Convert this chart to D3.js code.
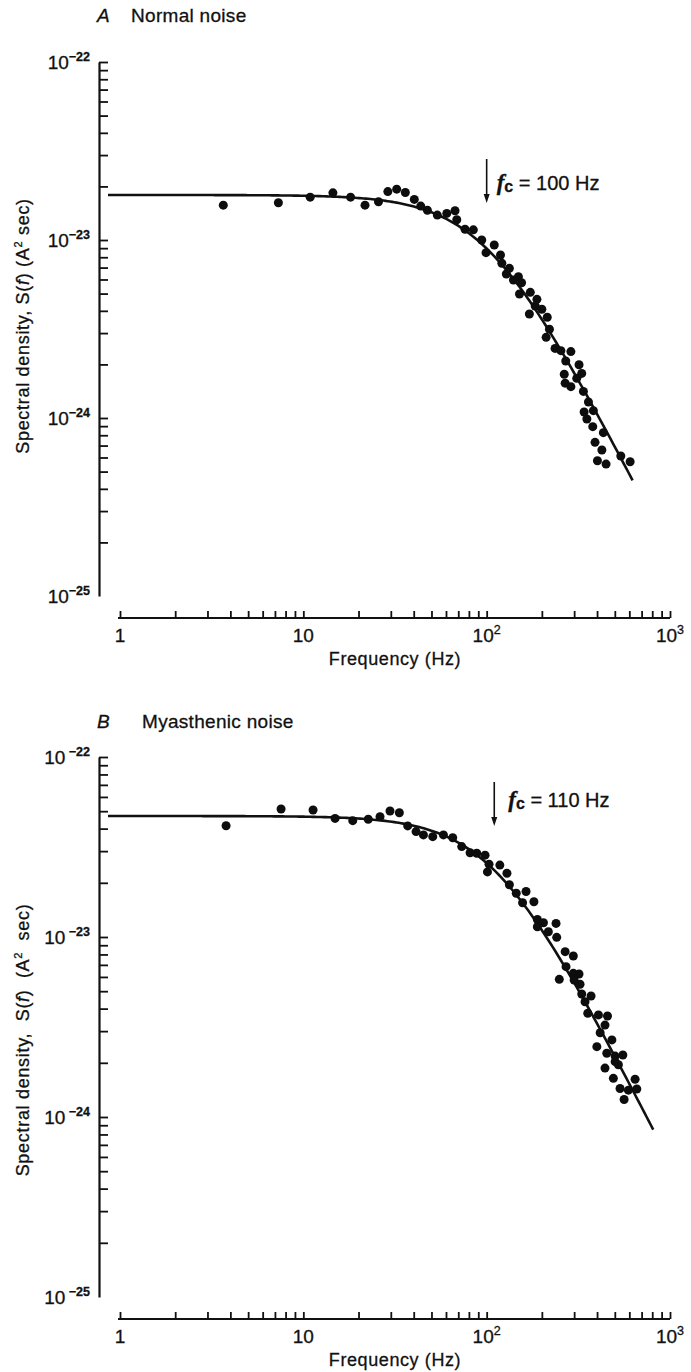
<!DOCTYPE html>
<html>
<head>
<meta charset="utf-8">
<script src="https://cdn.jsdelivr.net/npm/d3@7"></script>
<style>
  body { margin: 0; background: #fff; }
  text { font-family: "Liberation Sans", Arial, sans-serif; fill: #111; stroke: #111; stroke-width: 0.3px; }
</style>
</head>
<body>
<svg id="chart" width="691" height="1372"></svg>
<script>
// ---- Data: spectral density of end-plate current noise ----
// A: normal noise
const normalFreq = [3.66, 7.31, 10.9, 14.5, 18.1, 21.7, 25.7, 28.9, 32.3, 36.0,
  40.3, 43.7, 47.5, 53.8, 60.6, 67.2, 68.7, 76.2, 84.6, 94.0,
  99.2, 110, 119, 121, 128, 133, 140, 149, 155, 151,
  173, 188, 184, 171, 200, 214, 220, 211, 236, 254,
  288, 270, 319, 330, 265, 310, 268, 288, 337, 359,
  340, 382, 352, 379, 433, 390, 425, 402, 448, 539, 606];
const normalDensity = [1.57e-23, 1.62e-23, 1.74e-23, 1.84e-23, 1.74e-23, 1.57e-23, 1.64e-23, 1.87e-23, 1.93e-23, 1.85e-23,
  1.69e-23, 1.55e-23, 1.47e-23, 1.38e-23, 1.41e-23, 1.46e-23, 1.30e-23, 1.15e-23, 1.14e-23, 1.00e-23,
  8.49e-24, 9.37e-24, 8.24e-24, 7.40e-24, 6.44e-24, 6.93e-24, 5.96e-24, 6.22e-24, 5.75e-24, 4.97e-24,
  5.08e-24, 4.64e-24, 4.26e-24, 3.84e-24, 4.08e-24, 3.68e-24, 3.15e-24, 2.84e-24, 2.46e-24, 2.39e-24,
  2.36e-24, 2.09e-24, 1.99e-24, 1.78e-24, 1.76e-24, 1.67e-24, 1.57e-24, 1.50e-24, 1.41e-24, 1.23e-24,
  1.08e-24, 1.10e-24, 9.87e-25, 8.94e-25, 8.27e-25, 7.30e-25, 6.61e-25, 5.75e-25, 5.51e-25, 6.12e-25, 5.68e-25];

// B: myasthenic noise
const myasthenicFreq = [3.79, 7.56, 11.3, 14.9, 18.6, 22.6, 26.2, 29.7, 33.4, 37.1,
  41.2, 45.2, 50.8, 58.1, 65.3, 73.1, 81.2, 88.3, 98.0, 103,
  101, 118, 129, 133, 145, 164, 157, 181, 189, 204,
  189, 239, 217, 241, 268, 297, 271, 249, 297, 319,
  323, 300, 371, 330, 344, 356, 407, 456, 442, 416,
  482, 399, 452, 502, 553, 502, 523, 442, 491, 645,
  534, 593, 659, 562];
const myasthenicDensity = [4.15e-23, 5.14e-23, 5.08e-23, 4.56e-23, 4.43e-23, 4.51e-23, 4.66e-23, 5.01e-23, 4.90e-23, 4.14e-23,
  3.85e-23, 3.69e-23, 3.61e-23, 3.69e-23, 3.56e-23, 3.18e-23, 2.94e-23, 2.92e-23, 2.85e-23, 2.54e-23,
  2.30e-23, 2.51e-23, 2.26e-23, 1.95e-23, 1.75e-23, 1.79e-23, 1.55e-23, 1.57e-23, 1.25e-23, 1.20e-23,
  1.14e-23, 1.19e-23, 1.07e-23, 9.96e-24, 8.29e-24, 7.84e-24, 6.84e-24, 5.82e-24, 6.28e-24, 6.23e-24,
  5.46e-24, 5.77e-24, 4.70e-24, 4.82e-24, 4.37e-24, 3.77e-24, 3.69e-24, 3.64e-24, 3.24e-24, 2.94e-24,
  2.68e-24, 2.46e-24, 2.26e-24, 2.18e-24, 2.21e-24, 2.03e-24, 1.95e-24, 1.87e-24, 1.64e-24, 1.62e-24,
  1.44e-24, 1.41e-24, 1.43e-24, 1.25e-24];

// Lorentzian fits: plateau S(0) and corner frequency fc
const fitPlateau = [1.79e-23, 4.7e-23];
const cornerFreq = [100, 110];
const fitRange = [[0.86, 625], [0.86, 810]];

// Axis ticks and labels
const xMajorTicks = [1, 10, 100, 1000];
const xTickBase = ["1", "10", "10", "10"];
const xTickSup = ["", "", "2", "3"];
const yMajorExp = [-22, -23, -24, -25];
const panelLetters = ["A", "B"];
const panelNames = ["Normal noise", "Myasthenic noise"];
const xTitle = "Frequency (Hz)";

// ---- Layout ----
const svg = d3.select("#chart");
const xLeft = 120, xRight = 670, yAxisX = 99;

const layouts = [
  { top: 62, bottom: 596, axisY: 618, titleY: 22, nameX: 131,
    arrowTop: 159, arrowTip: 203, fcY: 190, fcDx: 10,
    yLabelC: 326, yLabelSpaced: false, tickGap: "" },
  { top: 757, bottom: 1297, axisY: 1319, titleY: 728, nameX: 142,
    arrowTop: 782, arrowTip: 826, fcY: 807, fcDx: 14,
    yLabelC: 1040, yLabelSpaced: true, tickGap: " " }
];

const series = [
  { freq: normalFreq, dens: normalDensity },
  { freq: myasthenicFreq, dens: myasthenicDensity }
];

function drawPanel(i) {
  const L = layouts[i];
  const g = svg.append("g");

  const x = d3.scaleLog().domain([1, 1000]).range([xLeft, xRight]);
  const y = d3.scaleLog().domain([1e-25, 1e-22]).range([L.bottom, L.top]);

  // y axis: inward ticks at every 1..9 x 10^k
  const yAxis = d3.axisLeft(y)
    .tickValues(y.ticks())
    .tickSizeInner(-9).tickSizeOuter(0)
    .tickFormat("");
  const ya = g.append("g").attr("transform", `translate(${yAxisX},0)`).call(yAxis);
  ya.select(".domain").attr("stroke", "#111").attr("stroke-width", 2.2);
  ya.selectAll(".tick line").attr("stroke", "#111").attr("stroke-width", 1.8);

  // y tick labels 10^n
  yMajorExp.forEach(e => {
    const t = g.append("text")
      .attr("x", 90).attr("y", y(Math.pow(10, e)) + 7)
      .attr("text-anchor", "end")
      .style("font-size", "19px");
    t.append("tspan").text("10");
    t.append("tspan").attr("dy", -8).style("font-size", "12.5px")
      .style("font-weight", "bold").text(L.tickGap + "\u2212" + (-e));
  });

  // x axis: ticks pointing up, separate baseline below the plot
  const xAxis = d3.axisBottom(x)
    .tickValues(x.ticks())
    .tickSizeInner(-7).tickSizeOuter(0)
    .tickFormat("");
  const xa = g.append("g").attr("transform", `translate(0,${L.axisY})`).call(xAxis);
  xa.select(".domain").attr("stroke", "#111").attr("stroke-width", 2.2)
    .attr("d", `M${xLeft - 2},0H${xRight}`);
  xa.selectAll(".tick line").attr("stroke", "#111").attr("stroke-width", 1.8);

  xMajorTicks.forEach((v, k) => {
    const t = g.append("text")
      .attr("x", x(v)).attr("y", L.axisY + 24)
      .attr("text-anchor", "middle")
      .style("font-size", "19px");
    t.append("tspan").text(xTickBase[k]);
    if (xTickSup[k]) {
      t.append("tspan").attr("dy", -8).style("font-size", "12.5px").text(xTickSup[k]);
    }
  });

  g.append("text")
    .attr("x", (x(1) + x(1000)) / 2 - 0).attr("y", L.axisY + 47)
    .attr("text-anchor", "middle")
    .style("font-size", "18px").style("letter-spacing", "0.6px")
    .text(xTitle);

  // y axis title
  const yt = g.append("text")
    .attr("transform", `translate(29,${L.yLabelC}) rotate(-90)`)
    .attr("text-anchor", "middle")
    .style("font-size", "18px").style("letter-spacing", "0.7px");
  const sp = L.yLabelSpaced ? "\u00a0\u00a0" : "\u00a0";
  yt.append("tspan").text("Spectral density," + sp + "S(");
  yt.append("tspan").style("font-style", "italic").text("f");
  yt.append("tspan").text(")" + sp + "(A");
  yt.append("tspan").attr("dy", -7).style("font-size", "11px").text("2");
  yt.append("tspan").attr("dy", 7).text(sp + "sec)");

  // panel title
  g.append("text").attr("x", 97).attr("y", L.titleY)
    .style("font-size", "19px").style("font-style", "italic").text(panelLetters[i]);
  g.append("text").attr("x", L.nameX).attr("y", L.titleY)
    .style("font-size", "19px").style("letter-spacing", "0.3px").text(panelNames[i]);

  // fitted Lorentzian
  const S0 = fitPlateau[i], fc = cornerFreq[i];
  const fs = d3.range(0, 241).map(k =>
    fitRange[i][0] * Math.pow(fitRange[i][1] / fitRange[i][0], k / 240));
  const line = d3.line()
    .x(f => x(f))
    .y(f => y(S0 / (1 + (f / fc) * (f / fc))));
  g.append("path").datum(fs)
    .attr("d", line)
    .attr("fill", "none").attr("stroke", "#111").attr("stroke-width", 2.6);

  // data points
  const s = series[i];
  g.selectAll("circle.pt").data(d3.range(s.freq.length)).join("circle")
    .attr("class", "pt")
    .attr("cx", k => x(s.freq[k]))
    .attr("cy", k => y(s.dens[k]))
    .attr("r", 4.5)
    .attr("fill", "#0d0d0d");

  // corner-frequency arrow and label
  const ax = x(fc);
  g.append("line").attr("x1", ax).attr("x2", ax)
    .attr("y1", L.arrowTop).attr("y2", L.arrowTip - 6)
    .attr("stroke", "#111").attr("stroke-width", 1.6);
  g.append("path")
    .attr("d", `M${ax - 3},${L.arrowTip - 9}L${ax + 3},${L.arrowTip - 9}L${ax},${L.arrowTip}Z`)
    .attr("fill", "#111");
  const ft = g.append("text").attr("x", ax + L.fcDx).attr("y", L.fcY)
    .style("font-size", "20px");
  ft.append("tspan").style("font-style", "italic").style("font-weight", "bold")
    .style("font-family", "'Liberation Serif', serif").style("font-size", "23px").text("f");
  ft.append("tspan").attr("dy", 2).style("font-weight", "bold").style("font-size", "16px").text("c");
  ft.append("tspan").attr("dy", -2).text(" = " + fc + " Hz");
}

drawPanel(0);
drawPanel(1);
</script>
</body>
</html>
